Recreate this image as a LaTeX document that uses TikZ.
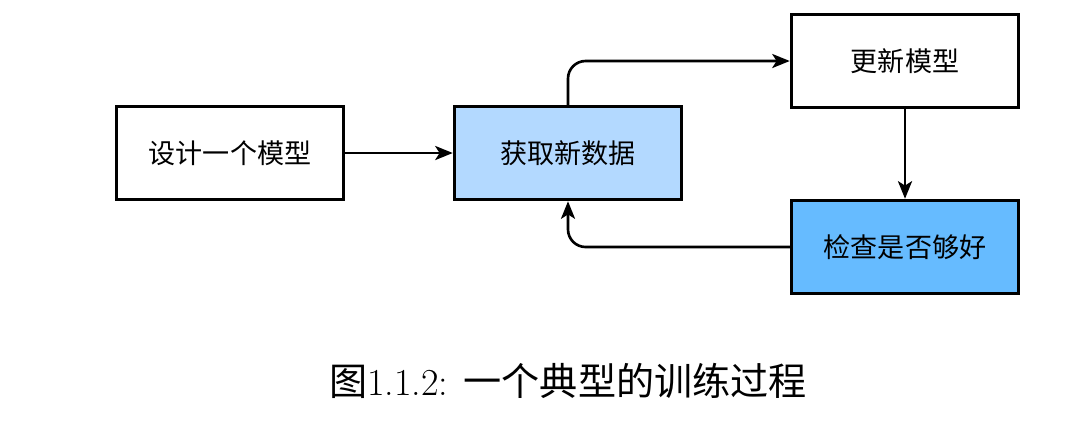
\documentclass[tikz,border=0pt]{standalone}
\usepackage{fontspec}
\newfontfamily\cjk{Noto Sans CJK SC}
\usetikzlibrary{arrows.meta}
\definecolor{lightb}{HTML}{B3D9FF}
\definecolor{darkb}{HTML}{66BBFF}
\begin{document}
\begin{tikzpicture}[x=0.02cm,y=-0.02cm,
  box/.style={draw=black,line width=2pt,minimum width=4.54cm,minimum height=1.86cm,inner sep=0pt,font=\cjk\fontsize{15.4}{18}\selectfont},
  conn/.style={line width=1.5pt,-{Stealth[length=10pt,width=8pt,inset=2.5pt]},rounded corners=10pt}]
\useasboundingbox (0,0) rectangle (1070,427);
\node[box] (a) at (230,153) {设计一个模型};
\node[box,fill=lightb] (b) at (568,153) {获取新数据};
\node[box] (c) at (905,61) {更新模型};
\node[box,fill=darkb] (d) at (905,247) {检查是否够好};
\draw[conn] (a) -- (b);
\draw[conn] (b.north) |- (c.west);
\draw[conn] (c) -- (d);
\draw[conn] (d.west) -| (b.south);
\node (cap) at (568,381) {\fontsize{21.7}{25}\selectfont{\cjk 图}1.1.2: {\cjk 一个典型的训练过程}};
\end{tikzpicture}
\end{document}
